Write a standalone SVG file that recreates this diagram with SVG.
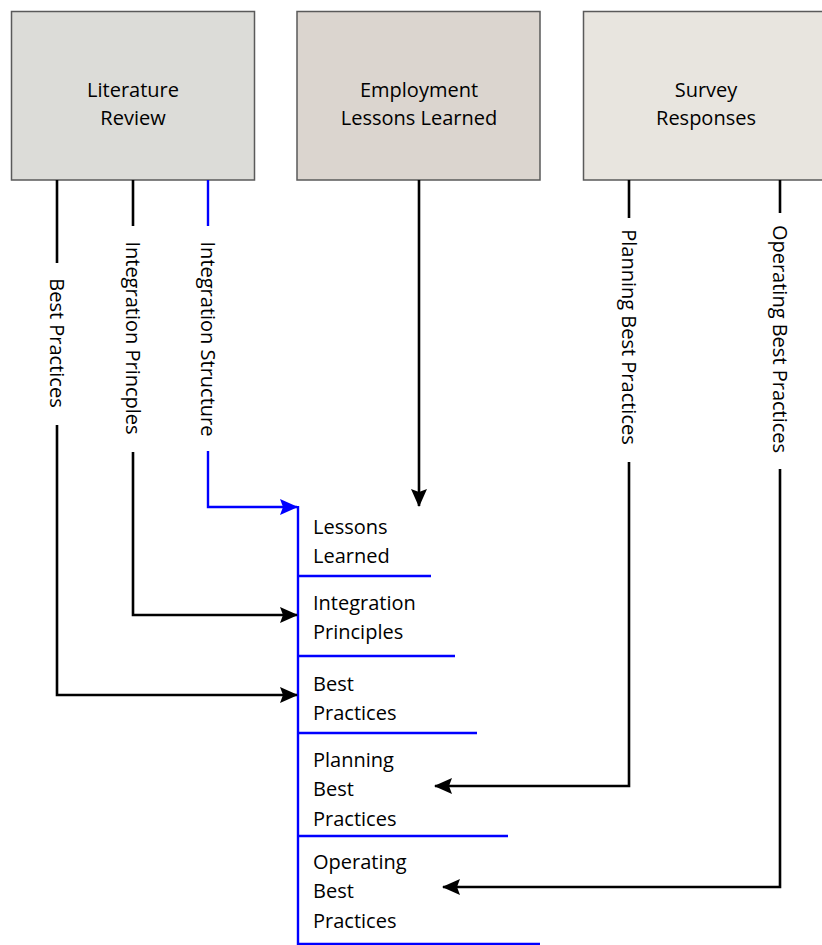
<svg xmlns="http://www.w3.org/2000/svg" width="822" height="945" viewBox="0 0 822 945">
  <style>
    text { font-family: "Open Sans", "Liberation Sans", sans-serif; font-size: 20px; fill: #000; }
    .src rect { stroke: #5a5a5a; stroke-width: 1.5; }
    .mid { text-anchor: middle; }
    .vlab { text-anchor: middle; dominant-baseline: central; }
    .blk { stroke: #000; stroke-width: 2.6; fill: none; }
    .blu { stroke: #0000ff; stroke-width: 2.4; fill: none; }
  </style>
  <defs>
    <marker id="ah" viewBox="0 0 18 16" refX="17" refY="8" markerWidth="18" markerHeight="16" markerUnits="userSpaceOnUse" orient="auto">
      <path d="M0,0 L18,8 L0,16 L3,8 Z" fill="#000"/>
    </marker>
    <marker id="ahb" viewBox="0 0 18 16" refX="17" refY="8" markerWidth="18" markerHeight="16" markerUnits="userSpaceOnUse" orient="auto">
      <path d="M0,0 L18,8 L0,16 L3,8 Z" fill="#0000ff"/>
    </marker>
  </defs>
  <rect width="822" height="945" fill="#fff"/>

  <!-- source boxes -->
  <g id="literature-review" class="src">
    <rect x="11.5" y="11.5" width="243" height="168.5" fill="#dcdcd8"/>
    <text class="mid" x="133" y="97">Literature</text>
    <text class="mid" x="133" y="125">Review</text>
  </g>
  <g id="employment-lessons" class="src">
    <rect x="297" y="11.5" width="243" height="168.5" fill="#dbd5cf"/>
    <text class="mid" x="419" y="97">Employment</text>
    <text class="mid" x="419" y="125">Lessons Learned</text>
  </g>
  <g id="survey-responses" class="src">
    <rect x="583.5" y="11.5" width="246" height="168.5" fill="#e8e5df"/>
    <text class="mid" x="706" y="97">Survey</text>
    <text class="mid" x="706" y="125">Responses</text>
  </g>

  <!-- target list -->
  <g id="framework">
    <path class="blu" d="M298,506 V945 M298,576 H431 M298,656 H455 M298,733 H477 M298,836 H508 M298,944 H540"/>
    <text x="313" y="534">Lessons</text>
    <text x="313" y="563">Learned</text>
    <text x="313" y="610">Integration</text>
    <text x="313" y="639">Principles</text>
    <text x="313" y="691">Best</text>
    <text x="313" y="720">Practices</text>
    <text x="313" y="767">Planning</text>
    <text x="313" y="796">Best</text>
    <text x="313" y="826">Practices</text>
    <text x="313" y="869">Operating</text>
    <text x="313" y="898">Best</text>
    <text x="313" y="928">Practices</text>
  </g>

  <!-- connectors -->
  <g id="connectors">
    <path class="blk" d="M57,180 V263"/>
    <path class="blk" d="M57,425 V695 H297" marker-end="url(#ah)"/>
    <text class="vlab" transform="translate(57,343) rotate(90)">Best Practices</text>

    <path class="blk" d="M133,180 V226"/>
    <path class="blk" d="M133,452 V615 H297" marker-end="url(#ah)"/>
    <text class="vlab" transform="translate(133,338) rotate(90)">Integration Princples</text>

    <path class="blu" d="M208,180 V226"/>
    <path class="blu" d="M208,451 V507 H297" marker-end="url(#ahb)"/>
    <text class="vlab" transform="translate(208,339) rotate(90)">Integration Structure</text>

    <path class="blk" d="M419,180 V506" marker-end="url(#ah)"/>

    <path class="blk" d="M629,180 V218"/>
    <path class="blk" d="M629,462 V786 H435" marker-end="url(#ah)"/>
    <text class="vlab" transform="translate(629,337) rotate(90)">Planning Best Practices</text>

    <path class="blk" d="M780,180 V213"/>
    <path class="blk" d="M780,469 V887 H443" marker-end="url(#ah)"/>
    <text class="vlab" transform="translate(780,339) rotate(90)">Operating Best Practices</text>
  </g>
</svg>
